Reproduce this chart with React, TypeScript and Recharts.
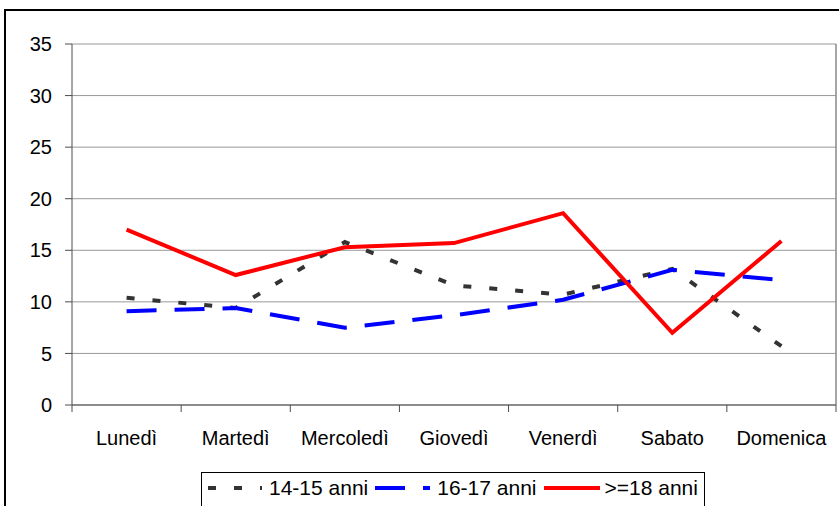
import { LineChart, Line, XAxis, YAxis, CartesianGrid, Legend, ReferenceLine } from "recharts";

const days = ["Lunedì", "Martedì", "Mercoledì", "Giovedì", "Venerdì", "Sabato", "Domenica"];
const anni1415 = [10.4, 9.4, 15.8, 11.6, 10.7, 13.2, 5.7];
const anni1617 = [9.1, 9.4, 7.5, 8.7, 10.2, 13.1, 12.1];
const anni18 = [17.0, 12.6, 15.3, 15.7, 18.6, 7.0, 15.9];
const yTicks = [0, 5, 10, 15, 20, 25, 30, 35];

const series = [
  { key: "a", name: "14-15 anni", color: "#333333", dash: "8 18", icon: 54, gap: 7 },
  { key: "b", name: "16-17 anni", color: "#0000FF", dash: "30 18", icon: 55, gap: 7 },
  { key: "c", name: ">=18 anni", color: "#FF0000", dash: undefined, icon: 56, gap: 5 },
];

const data = days.map((day, i) => ({
  idx: i,
  day,
  a: anni1415[i],
  b: anni1617[i],
  c: anni18[i],
}));

// tick marks sit between the categories, like the original
const boundaries = days.map((_, i) => i - 0.5).concat(days.length - 0.5);

const FONT = "'Liberation Sans', Arial, sans-serif";

function LegendBox() {
  return (
    <div
      style={{
        border: "1px solid #000",
        background: "#fff",
        width: 504,
        height: 40,
        boxSizing: "border-box",
        display: "flex",
        alignItems: "flex-start",
        paddingTop: 4,
        paddingLeft: 6,
        fontFamily: FONT,
        fontSize: 21,
        color: "#000",
        lineHeight: "22px",
        whiteSpace: "nowrap",
      }}>
      {series.map((s) => (
        <div
          key={s.key}
          style={{ display: "flex", alignItems: "center", marginRight: 7, flexShrink: 0 }}>
          <svg width={s.icon} height={20} style={{ marginRight: s.gap, flexShrink: 0 }}>
            <line
              x1={0}
              y1={10}
              x2={s.icon}
              y2={10}
              stroke={s.color}
              strokeWidth={4}
              strokeDasharray={s.dash}
            />
          </svg>
          <span>{s.name}</span>
        </div>
      ))}
    </div>
  );
}

export default function App() {
  return (
    <div
      style={{
        position: "absolute",
        left: 0,
        top: 0,
        width: 839,
        height: 506,
        overflow: "hidden",
        background: "#fff",
      }}>
      <div
        style={{
          position: "absolute",
          left: 4,
          top: 9,
          width: 900,
          height: 600,
          border: "2px solid #000",
        }}
      />
      <LineChart
        width={839}
        height={506}
        data={data}
        margin={{ top: 44, right: 3, left: 0, bottom: 0 }}
        style={{ fontFamily: FONT }}>
        <CartesianGrid vertical={false} stroke="#999999" strokeWidth={1} />
        <XAxis
          xAxisId="axisA"
          type="number"
          dataKey="idx"
          domain={[-0.5, days.length - 0.5]}
          ticks={boundaries}
          tickFormatter={() => ""}
          tickSize={7}
          tickMargin={0}
          height={7}
          stroke="#4d4d4d"
          allowDecimals
        />
        <XAxis
          xAxisId="axisB"
          dataKey="day"
          scale="band"
          axisLine={false}
          tickLine={false}
          tickSize={0}
          tickMargin={19}
          height={60}
          interval={0}
          tick={{ fill: "#000", fontSize: 20 }}
        />
        <YAxis
          width={72}
          domain={[0, 35]}
          ticks={yTicks}
          tickSize={7}
          tickMargin={13}
          stroke="#4d4d4d"
          tick={{ fill: "#000", fontSize: 20 }}
        />
        <ReferenceLine xAxisId="axisA" x={days.length - 0.5} stroke="#888888" strokeWidth={1.5} />
        {series.map((s) => (
          <Line
            key={s.key}
            xAxisId="axisA"
            type="linear"
            dataKey={s.key}
            name={s.name}
            stroke={s.color}
            strokeWidth={4}
            strokeDasharray={s.dash}
            dot={false}
            activeDot={false}
            isAnimationActive={false}
          />
        ))}
        <Legend
          content={() => <LegendBox />}
          height={34}
          wrapperStyle={{ top: 472, left: 201, width: 504, height: 34, bottom: "auto" }}
        />
      </LineChart>
    </div>
  );
}
